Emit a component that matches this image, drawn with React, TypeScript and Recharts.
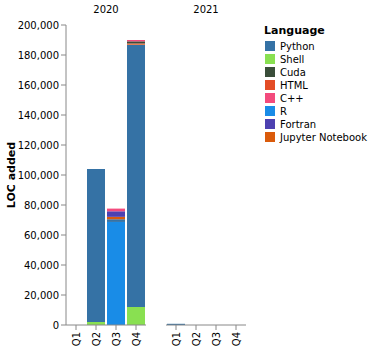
import { BarChart, Bar, XAxis, YAxis } from "recharts";

const quarters = ["Q1", "Q2", "Q3", "Q4"];
const years = ["2020", "2021"];
const yTicks = [0, 20000, 40000, 60000, 80000, 100000, 120000, 140000, 160000, 180000, 200000];

// legend order
const languages = ["Python", "Shell", "Cuda", "HTML", "C++", "R", "Fortran", "Jupyter Notebook"];
const colors = ["#3572A5", "#89e051", "#3A4E3A", "#e34c26", "#f34b7d", "#198CE7", "#4d41b1", "#DA5B0B"];
// stacking order, bottom to top
const stackOrder = ["Shell", "R", "Python", "Jupyter Notebook", "HTML", "Fortran", "Cuda", "C++"];

// LOC added per quarter, 2020
const python2020 = [0, 102000, 1800, 174700];
const shell2020 = [0, 2000, 0, 12000];
const cuda2020 = [0, 0, 0, 1400];
const html2020 = [0, 0, 0, 600];
const cpp2020 = [0, 0, 1800, 900];
const r2020 = [0, 0, 68700, 0];
const fortran2020 = [0, 0, 3700, 0];
const jupyter2020 = [0, 0, 1600, 400];

// LOC added per quarter, 2021
const python2021 = [800, 0, 0, 0];
const shell2021 = [0, 0, 0, 0];
const cuda2021 = [0, 0, 0, 0];
const html2021 = [0, 0, 0, 0];
const cpp2021 = [0, 0, 0, 0];
const r2021 = [0, 0, 0, 0];
const fortran2021 = [0, 0, 0, 0];
const jupyter2021 = [0, 0, 0, 0];

const series2020 = [python2020, shell2020, cuda2020, html2020, cpp2020, r2020, fortran2020, jupyter2020];
const series2021 = [python2021, shell2021, cuda2021, html2021, cpp2021, r2021, fortran2021, jupyter2021];

const toRows = (series: number[][]) =>
  quarters.map((q, i) => {
    const row: Record<string, string | number> = { quarter: q };
    languages.forEach((lang, j) => {
      row[lang] = series[j][i];
    });
    return row;
  });

const rows2020 = toRows(series2020);
const rows2021 = toRows(series2021);

const FONT = "DejaVu Sans, sans-serif";
const AXIS = "#888";

const QuarterTick = (props: any) => {
  const { x, y, payload } = props;
  return (
    <text
      x={x}
      y={y}
      dy="0.35em"
      transform={`rotate(-90 ${x} ${y})`}
      textAnchor="end"
      fontSize={10}
      fontFamily={FONT}
      fill="#000"
    >
      {payload.value}
    </text>
  );
};

const colorOf = (lang: string) => colors[languages.indexOf(lang)];

const Facet = ({ data, withY }: { data: any[]; withY: boolean }) => (
  <BarChart
    width={withY ? 150 : 80}
    height={351}
    data={data}
    margin={{ top: 25, right: withY ? 4 : 0, bottom: 0, left: 0 }}
    barCategoryGap={1}
  >
    <XAxis
      dataKey="quarter"
      height={26}
      interval={0}
      tickSize={5}
      tickMargin={2}
      stroke={AXIS}
      tick={<QuarterTick />}
    />
    <YAxis
      hide={!withY}
      width={66}
      domain={[0, 200000]}
      ticks={yTicks}
      interval={0}
      tickSize={5}
      tickMargin={2}
      stroke={AXIS}
      tick={{ fontSize: 10, fontFamily: FONT, fill: "#000" }}
      tickFormatter={(v: number) => v.toLocaleString("en-US")}
    />
    {stackOrder.map((lang) => (
      <Bar key={lang} dataKey={lang} stackId="a" fill={colorOf(lang)} isAnimationActive={false} />
    ))}
  </BarChart>
);

export default function App() {
  return (
    <div style={{ position: "absolute", left: 0, top: 0, width: 370, height: 351, background: "#fff" }}>
      <div style={{ position: "absolute", left: 0, top: 0 }}>
        <Facet data={rows2020} withY />
      </div>
      <div style={{ position: "absolute", left: 166, top: 0 }}>
        <Facet data={rows2021} withY={false} />
      </div>
      <svg
        width={370}
        height={351}
        style={{ position: "absolute", left: 0, top: 0, pointerEvents: "none" }}
        fontFamily={FONT}
      >
        {years.map((yr, i) => (
          <text key={yr} x={106 + i * 100} y={13} textAnchor="middle" fontSize={10} fill="#000">
            {yr}
          </text>
        ))}
        <text
          x={15}
          y={175}
          transform="rotate(-90 15 175)"
          textAnchor="middle"
          fontSize={11}
          fontWeight="bold"
          fill="#000"
        >
          LOC added
        </text>
        <text x={264} y={34} fontSize={11} fontWeight="bold" fill="#000">
          Language
        </text>
        {languages.map((lang, i) => (
          <g key={lang}>
            <rect x={265} y={41 + i * 13} width={10} height={10} fill={colors[i]} />
            <text x={280} y={49.5 + i * 13} fontSize={10} fill="#000">
              {lang}
            </text>
          </g>
        ))}
      </svg>
    </div>
  );
}
